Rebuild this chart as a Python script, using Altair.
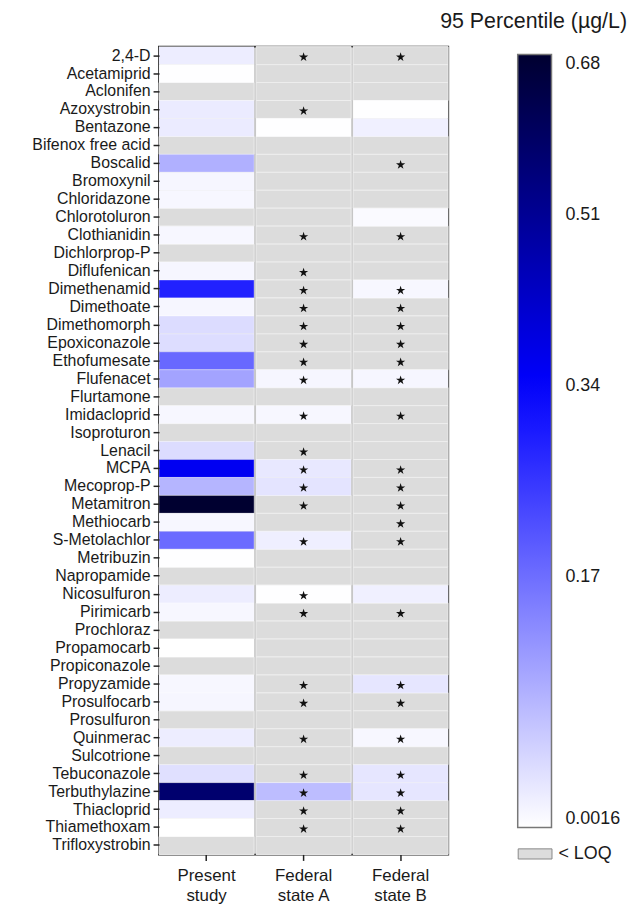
import altair as alt
import pandas as pd

compounds = ["2,4-D", "Acetamiprid", "Aclonifen", "Azoxystrobin", "Bentazone", "Bifenox free acid",
             "Boscalid", "Bromoxynil", "Chloridazone", "Chlorotoluron", "Clothianidin", "Dichlorprop-P",
             "Diflufenican", "Dimethenamid", "Dimethoate", "Dimethomorph", "Epoxiconazole", "Ethofumesate",
             "Flufenacet", "Flurtamone", "Imidacloprid", "Isoproturon", "Lenacil", "MCPA", "Mecoprop-P",
             "Metamitron", "Methiocarb", "S-Metolachlor", "Metribuzin", "Napropamide", "Nicosulfuron",
             "Pirimicarb", "Prochloraz", "Propamocarb", "Propiconazole", "Propyzamide", "Prosulfocarb",
             "Prosulfuron", "Quinmerac", "Sulcotrione", "Tebuconazole", "Terbuthylazine", "Thiacloprid",
             "Thiamethoxam", "Trifloxystrobin"]

sources = ["Present study", "Federal state A", "Federal state B"]

# 95th percentile (µg/L); None = < LOQ
present = [0.015, 0.002, None, 0.017, 0.017, None, 0.082, 0.0077, 0.0067, None, 0.0067, None,
           0.0077, 0.287, 0.0077, 0.032, 0.030, 0.178, 0.098, None, 0.0067, None, 0.032, 0.36, 0.075,
           0.68, 0.0067, 0.174, 0.002, None, 0.015, 0.0067, None, 0.0016, None, 0.0067, 0.0077,
           None, 0.015, None, 0.027, 0.573, 0.015, 0.0016, None]
fed_a = [None, None, None, None, 0.002, None, None, None, None, None, None, None,
         None, None, None, None, None, None, 0.0077, None, 0.0067, None, None, 0.0197, 0.0234,
         None, None, 0.0139, None, None, 0.002, None, None, None, None, None, None,
         None, None, None, None, 0.0663, None, None, None]
fed_b = [None, None, None, 0.002, 0.0129, None, None, None, None, 0.0049, None, None,
         None, 0.0067, None, None, None, None, 0.0077, None, None, None, None, None, None,
         None, None, None, None, None, 0.0129, None, None, None, None, 0.0221, None,
         None, 0.0067, None, 0.0221, 0.0221, None, None, None]
star_p = [0] * 45
star_a = [1, 0, 0, 1, 0, 0, 0, 0, 0, 0, 1, 0, 1, 1, 1, 1, 1, 1, 1, 0, 1, 0, 1, 1, 1,
          1, 0, 1, 0, 0, 1, 1, 0, 0, 0, 1, 1, 0, 1, 0, 1, 1, 1, 1, 0]
star_b = [1, 0, 0, 0, 0, 0, 1, 0, 0, 0, 1, 0, 0, 1, 1, 1, 1, 1, 1, 0, 1, 0, 0, 1, 1,
          1, 1, 1, 0, 0, 0, 1, 0, 0, 0, 1, 1, 0, 1, 0, 1, 1, 1, 1, 0]

legend_ticks = [0.0016, 0.17, 0.34, 0.51, 0.68]

rows = []
for i, c in enumerate(compounds):
    for s, vals, st in zip(sources, [present, fed_a, fed_b], [star_p, star_a, star_b]):
        v = vals[i]
        rows.append({"compound": c, "source": s, "value": v,
                     "loq": "< LOQ" if v is None else "ok", "star": st[i]})
df = pd.DataFrame(rows)

FONT = "Liberation Sans"
STAR = ("M0,-1L0.2245,-0.309L0.951,-0.309L0.363,0.118L0.588,0.809L0,0.382"
        "L-0.588,0.809L-0.363,0.118L-0.951,-0.309L-0.2245,-0.309Z")

x = alt.X("source:N", sort=sources,
          scale=alt.Scale(paddingInner=0.02, paddingOuter=0),
          axis=alt.Axis(title=None, labelAngle=0, domain=False, tickSize=6, tickWidth=1.5,
                        tickColor="#222", labelFontSize=17, labelColor="#1a1a1a", labelFont=FONT,
                        labelPadding=7, labelLineHeight=20, labelBaseline="top",
                        labelExpr="datum.label == 'Present study' ? ['Present', 'study'] : ['Federal', 'state ' + slice(datum.label, -1)]"))
y = alt.Y("compound:N", sort=compounds,
          scale=alt.Scale(paddingInner=0, paddingOuter=0),
          axis=alt.Axis(title=None, domain=False, tickSize=6, tickWidth=1.5, tickColor="#222",
                        labelFontSize=16, labelColor="#1a1a1a", labelFont=FONT, labelPadding=3))

base = alt.Chart(df).encode(x=x, y=y)

gray = base.transform_filter("datum.loq == '< LOQ'").mark_rect(
    stroke="#eeeeee", strokeWidth=1
).encode(
    color=alt.Color("loq:N", scale=alt.Scale(domain=["< LOQ"], range=["#dcdcdc"]),
                    legend=alt.Legend(orient="none", legendX=361, legendY=795, title=None,
                                      symbolType="M-1,-0.3H1V0.3H-1Z", symbolSize=1156,
                                      symbolStrokeColor="#888", symbolStrokeWidth=1,
                                      labelFontSize=18, labelFont=FONT, labelColor="#1a1a1a",
                                      labelOffset=6))
)

colored = base.transform_filter("datum.loq == 'ok'").mark_rect(
    stroke="#ffffff", strokeOpacity=0.35, strokeWidth=1
).encode(
    color=alt.Color("value:Q",
                    scale=alt.Scale(type="pow", exponent=0.8, domain=[0.0016, 0.34, 0.68],
                                    range=["#ffffff", "#0000ff", "#000030"], interpolate="rgb"),
                    legend=alt.Legend(orient="none", legendX=361, legendY=8, title=None,
                                      direction="vertical", gradientLength=778,
                                      gradientThickness=34, values=legend_ticks,
                                      gradientStrokeColor="#777", gradientStrokeWidth=1.5,
                                      labelFontSize=18, labelFont=FONT, labelColor="#1a1a1a",
                                      labelOffset=14, labelBaseline="middle",
                                      labelExpr="datum.value < 0.01 ? '0.0016' : format(datum.value, '.2f')"))
)

stars = base.transform_filter("datum.star == 1").mark_point(
    shape=STAR, filled=True, color="#111", opacity=1, size=95, yOffset=1.5
)

chart = alt.layer(gray, colored, stars).resolve_scale(color="independent").properties(
    width=291, height=813,
    title=alt.TitleParams("95 Percentile (µg/L)", anchor="end", fontSize=21.5,
                          fontWeight="normal", font=FONT, color="#1a1a1a", dx=6, offset=14),
    padding={"left": 23, "top": 0, "right": 0, "bottom": 0}
).configure_view(stroke="#222", strokeWidth=2, fill="#bdbdbd")

chart.save("out.html", embed_options={"renderer": "svg", "actions": False})
